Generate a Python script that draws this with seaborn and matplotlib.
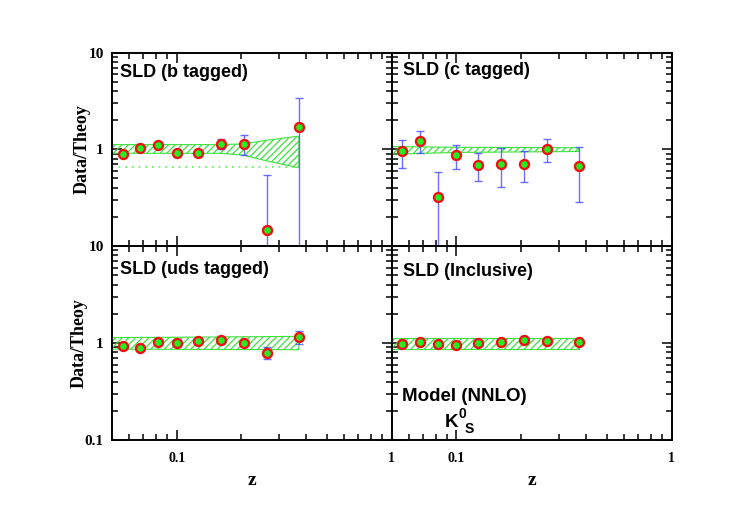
import numpy as np
import matplotlib
matplotlib.use("Agg")
import matplotlib.pyplot as plt
import seaborn as sns

# z bins (same for all four samples)
z = [0.056, 0.0675, 0.082, 0.100, 0.126, 0.161, 0.205, 0.262, 0.370]

# data / theory ratios and error-bar ends
b_ratio = [0.902, 1.03, 1.10, 0.924, 0.916, 1.14, 1.14, 0.148, 1.69]
b_lo = [0.86, 0.99, 1.06, 0.88, 0.87, 1.00, 0.867, 0.05, 0.05]
b_hi = [0.95, 1.07, 1.14, 0.97, 0.96, 1.29, 1.41, 0.543, 3.40]

c_ratio = [0.954, 1.23, 0.324, 0.874, 0.694, 0.711, 0.705, 1.008, 0.667]
c_lo = [0.641, 0.916, 0.05, 0.627, 0.467, 0.404, 0.459, 0.734, 0.288]
c_hi = [1.26, 1.56, 0.587, 1.117, 0.924, 1.024, 0.969, 1.29, 1.049]

uds_ratio = [0.938, 0.895, 1.032, 1.00, 1.049, 1.066, 1.008, 0.788, 1.153]
uds_lo = [0.90, 0.86, 1.00, 0.96, 1.01, 1.02, 0.96, 0.683, 0.984]
uds_hi = [0.97, 0.93, 1.07, 1.04, 1.09, 1.11, 1.05, 0.902, 1.33]

incl_ratio = [0.969, 1.016, 0.976, 0.961, 0.992, 1.032, 1.074, 1.057, 1.032]
incl_lo = [0.95, 0.99, 0.955, 0.94, 0.97, 1.01, 1.05, 1.035, 1.00]
incl_hi = [0.99, 1.04, 0.995, 0.98, 1.01, 1.055, 1.10, 1.08, 1.065]

# theory uncertainty bands
b_band_z = [0.05, 0.16, 0.205, 0.262, 0.37]
b_band_hi = [1.12, 1.12, 1.14, 1.24, 1.37]
b_band_lo = [0.91, 0.91, 0.87, 0.76, 0.645]
b_dotted = 0.656

c_band_z = [0.05, 0.1, 0.37]
c_band_hi = [1.07, 1.05, 1.04]
c_band_lo = [0.89, 0.93, 0.95]

uds_band_z = [0.05, 0.37]
uds_band_hi = [1.135, 1.17]
uds_band_lo = [0.865, 0.853]

incl_band_z = [0.05, 0.37]
incl_band_hi = [1.12, 1.12]
incl_band_lo = [0.875, 0.875]

titles = ["SLD (b tagged)", "SLD (c tagged)", "SLD (uds tagged)", "SLD (Inclusive)"]

sns.set_style("ticks")
plt.rcParams['font.family'] = ['Liberation Sans', 'DejaVu Sans']
plt.rcParams['text.color'] = 'black'
plt.rcParams['axes.labelcolor'] = 'black'
plt.rcParams['xtick.color'] = 'black'
plt.rcParams['ytick.color'] = 'black'
plt.rcParams['hatch.linewidth'] = 0.9

fig = plt.figure(figsize=(7.47, 5.18), dpi=100)
W, H = 747, 518
x0, xm, x1 = 112, 391.7, 671.7
y0, ym, y1 = 52.7, 246, 440
rects = [
    [x0 / W, 1 - ym / H, (xm - x0) / W, (ym - y0) / H],
    [xm / W, 1 - ym / H, (x1 - xm) / W, (ym - y0) / H],
    [x0 / W, 1 - y1 / H, (xm - x0) / W, (y1 - ym) / H],
    [xm / W, 1 - y1 / H, (x1 - xm) / W, (y1 - ym) / H],
]

panels = [
    (b_ratio, b_lo, b_hi, b_band_z, b_band_lo, b_band_hi),
    (c_ratio, c_lo, c_hi, c_band_z, c_band_lo, c_band_hi),
    (uds_ratio, uds_lo, uds_hi, uds_band_z, uds_band_lo, uds_band_hi),
    (incl_ratio, incl_lo, incl_hi, incl_band_z, incl_band_lo, incl_band_hi),
]
title_pos = [(0.03, 0.94), (0.04, 0.952), (0.03, 0.922), (0.04, 0.912)]

serif = {'family': 'Liberation Serif', 'weight': 'bold'}

for i, (rat, lo, hi, bz, blo, bhi) in enumerate(panels):
    ax = fig.add_axes(rects[i])
    ax.set_xscale('log')
    ax.set_yscale('log')
    ax.set_xlim(0.05, 1)
    ax.set_ylim(0.1, 10)

    ax.fill_between(bz, blo, bhi, facecolor='none', edgecolor='#3fe03f',
                    hatch='/////', linewidth=0.8, zorder=2)
    if i == 0:
        ax.plot([0.05, 0.37], [b_dotted, b_dotted], color='#55ee55',
                linestyle=(0, (1, 3)), linewidth=1.2, zorder=2)

    r = np.array(rat)
    ax.errorbar(z, r, yerr=[r - np.array(lo), np.array(hi) - r], fmt='none',
                ecolor='#4a4aff', elinewidth=1, capsize=3, capthick=1,
                alpha=0.8, zorder=3)
    sns.scatterplot(x=z, y=rat, ax=ax, color='#22ee22', edgecolor='#ee1111',
                    s=42, linewidth=1.7, zorder=5, legend=False)

    for side in ax.spines.values():
        side.set_linewidth(1.4)
        side.set_color('black')
    ax.tick_params(which='both', direction='in', top=True, right=True,
                   color='black', width=1.1)
    ax.tick_params(which='major', length=7)
    ax.tick_params(which='minor', length=4)

    ax.set_xticks([0.1, 1])
    ax.set_xticks([0.06, 0.07, 0.08, 0.09] + [0.2, 0.3, 0.4, 0.5, 0.6, 0.7, 0.8, 0.9], minor=True)
    ax.xaxis.set_minor_formatter(plt.NullFormatter())
    if i >= 2:
        ax.set_xticklabels(['0.1', '1'], fontdict=serif, fontsize=10)
        ax.tick_params(axis='x', pad=9)
        ax.set_xlabel('z', fontdict=serif, fontsize=14, labelpad=5)
    else:
        ax.set_xticklabels([])

    ax.set_yticks([0.1, 1, 10])
    ax.yaxis.set_minor_formatter(plt.NullFormatter())
    if i % 2 == 0:
        if i == 0:
            ax.set_yticklabels(['', '1', '10'], fontdict=serif, fontsize=11)
        else:
            ax.set_yticklabels(['0.1', '1', '10'], fontdict=serif, fontsize=11)
        ax.tick_params(axis='y', pad=6)
        ax.set_ylabel('Data/Theoy', fontdict=serif, fontsize=13, labelpad=-2)
    else:
        ax.set_yticklabels([])

    tx, ty = title_pos[i]
    ax.text(tx, ty, titles[i], transform=ax.transAxes, ha='left', va='top',
            fontsize=13, fontweight='bold')

    if i == 3:
        ax.text(0.035, 0.2, 'Model (NNLO)', transform=ax.transAxes,
                ha='left', va='baseline', fontsize=13.5, fontweight='bold')
        ax.text(0.19, 0.065, 'K', transform=ax.transAxes, ha='left',
                va='baseline', fontsize=13.5, fontweight='bold')
        ax.text(0.24, 0.115, '0', transform=ax.transAxes, ha='left',
                va='baseline', fontsize=10, fontweight='bold')
        ax.text(0.26, 0.035, 'S', transform=ax.transAxes, ha='left',
                va='baseline', fontsize=10, fontweight='bold')

fig.savefig('out.png', dpi=100)
